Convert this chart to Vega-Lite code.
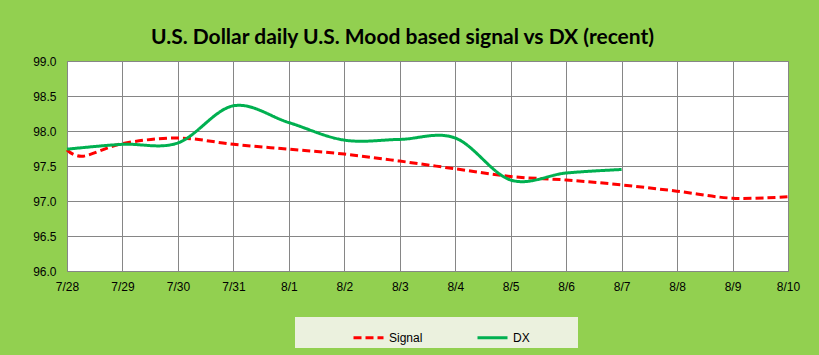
{
  "$schema": "https://vega.github.io/schema/vega-lite/v6.json",
  "autosize": "none",
  "width": 721,
  "height": 210,
  "padding": {"left": 67, "top": 61, "right": 31, "bottom": 84},
  "background": "#92D050",
  "title": {
    "text": "U.S. Dollar daily U.S. Mood based signal vs DX (recent)",
    "font": "Liberation Sans Narrow, Lato, sans-serif",
    "fontSize": 21,
    "fontWeight": "bold",
    "color": "#000000",
    "anchor": "middle",
    "dx": -25,
    "offset": 7
  },
  "config": {
    "view": {"stroke": "#808080", "strokeWidth": 1, "fill": "#FFFFFF"},
    "axis": {
      "labelFont": "Liberation Sans",
      "labelFontSize": 12,
      "labelColor": "#000000",
      "gridColor": "#868686",
      "gridOpacity": 1,
      "gridWidth": 1,
      "domain": false,
      "ticks": false,
      "title": null
    }
  },
  "data": {
    "values": [
      {"date": "2019-07-28T00:00", "series": "Signal", "value": 97.73},
      {"date": "2019-07-28T07:00", "series": "Signal", "value": 97.64},
      {"date": "2019-07-29T00:00", "series": "Signal", "value": 97.82},
      {"date": "2019-07-30T00:00", "series": "Signal", "value": 97.90},
      {"date": "2019-07-31T00:00", "series": "Signal", "value": 97.81},
      {"date": "2019-08-01T00:00", "series": "Signal", "value": 97.74},
      {"date": "2019-08-02T00:00", "series": "Signal", "value": 97.67},
      {"date": "2019-08-03T00:00", "series": "Signal", "value": 97.57},
      {"date": "2019-08-04T00:00", "series": "Signal", "value": 97.46},
      {"date": "2019-08-05T00:00", "series": "Signal", "value": 97.35},
      {"date": "2019-08-06T00:00", "series": "Signal", "value": 97.30},
      {"date": "2019-08-07T00:00", "series": "Signal", "value": 97.23},
      {"date": "2019-08-08T00:00", "series": "Signal", "value": 97.14},
      {"date": "2019-08-09T00:00", "series": "Signal", "value": 97.04},
      {"date": "2019-08-10T00:00", "series": "Signal", "value": 97.06},
      {"date": "2019-07-28T00:00", "series": "DX", "value": 97.74},
      {"date": "2019-07-29T00:00", "series": "DX", "value": 97.81},
      {"date": "2019-07-30T00:00", "series": "DX", "value": 97.83},
      {"date": "2019-07-31T00:00", "series": "DX", "value": 98.36},
      {"date": "2019-08-01T00:00", "series": "DX", "value": 98.12},
      {"date": "2019-08-02T00:00", "series": "DX", "value": 97.87},
      {"date": "2019-08-03T00:00", "series": "DX", "value": 97.88},
      {"date": "2019-08-04T00:00", "series": "DX", "value": 97.90},
      {"date": "2019-08-05T00:00", "series": "DX", "value": 97.30},
      {"date": "2019-08-06T00:00", "series": "DX", "value": 97.40},
      {"date": "2019-08-07T00:00", "series": "DX", "value": 97.45}
    ]
  },
  "mark": {"type": "line", "interpolate": "cardinal", "strokeWidth": 3},
  "encoding": {
    "x": {
      "field": "date",
      "type": "temporal",
      "scale": {"domain": ["2019-07-28T00:00", "2019-08-10T00:00"], "nice": false},
      "axis": {
        "format": "%-m/%-d",
        "tickCount": {"interval": "day", "step": 1},
        "labelPadding": 10,
        "labelOverlap": false,
        "labelFlush": false
      }
    },
    "y": {
      "field": "value",
      "type": "quantitative",
      "scale": {"domain": [96, 99], "nice": false, "zero": false},
      "axis": {
        "values": [96, 96.5, 97, 97.5, 98, 98.5, 99],
        "format": ".1f",
        "labelPadding": 11
      }
    },
    "color": {
      "field": "series",
      "type": "nominal",
      "sort": ["Signal", "DX"],
      "scale": {"domain": ["Signal", "DX"], "range": ["#FF0000", "#00B050"]},
      "legend": {
        "title": "\u200b",
        "titleOrient": "right",
        "titlePadding": 44,
        "titleFontSize": 12,
        "orient": "none",
        "legendX": 228,
        "legendY": 256,
        "direction": "horizontal",
        "fillColor": "#EBF1DE",
        "padding": 4,
        "symbolType": "stroke",
        "symbolSize": 900,
        "symbolStrokeWidth": 3,
        "symbolOffset": 53,
        "labelOffset": 4,
        "labelFont": "Liberation Sans",
        "labelFontSize": 12,
        "labelColor": "#000000",
        "columnPadding": 0
      }
    },
    "strokeDash": {
      "field": "series",
      "type": "nominal",
      "sort": ["Signal", "DX"],
      "scale": {"domain": ["Signal", "DX"], "range": [[8, 4], [1, 0]]}
    }
  }
}
